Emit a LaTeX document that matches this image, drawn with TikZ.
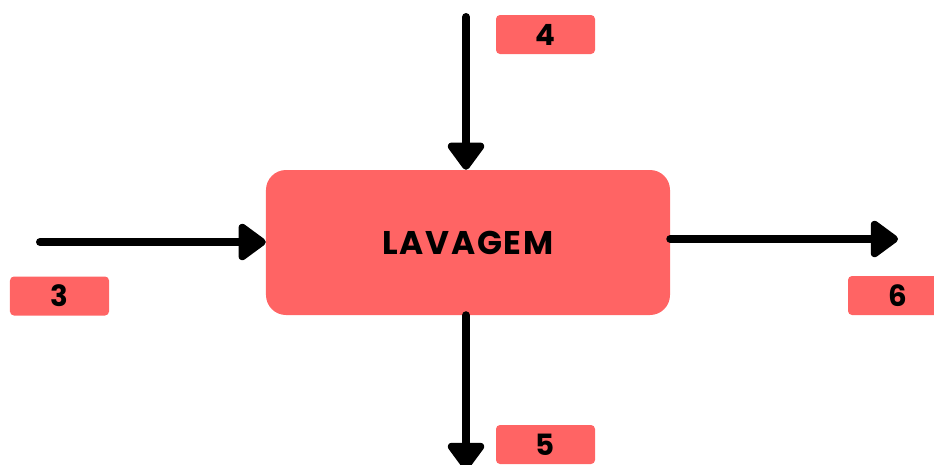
\documentclass[tikz,border=0pt]{standalone}
\usepackage{fontspec}
\setmainfont{Poppins}
\newfontfamily\boxfont[LetterSpace=5]{Poppins}
\usetikzlibrary{arrows.meta}
\definecolor{salmon}{RGB}{255,100,100}
\tikzset{
  flow/.style={line width=2.4mm, line cap=round,
    -{Triangle[length=9mm, width=12.5mm, round]}},
  tag/.style={fill=salmon, rounded corners=1.2mm, minimum width=2.97cm,
    minimum height=1.17cm, inner sep=0pt, font=\bfseries\fontsize{25}{25}\selectfont}
}
\begin{document}
\begin{tikzpicture}[x=0.03cm, y=-0.03cm]
      \useasboundingbox (0, 0) rectangle (934, 464);
      \node [fill=salmon, rounded corners=6mm, minimum width=12.12cm, minimum height=4.35cm,
        font=\boxfont\bfseries\fontsize{28}{28}\selectfont] (wash) at (468, 242.5) {LAVAGEM};
      \coordinate (in) at (40, 242);
      \coordinate (top) at (466, 17);
      \coordinate (bottom) at (466, 470);
      \coordinate (out) at (898, 239);
      \draw [flow] (in) -- (in -| wash.west);
      \draw [flow] (top) -- (wash.north -| top);
      \draw [flow] (wash.south -| bottom) -- (bottom);
      \draw [flow] (wash.east |- out) -- (out);
      \node [tag] (t3) at (59.5, 296) {3};
      \node [tag] (t4) at (545.5, 34.5) {4};
      \node [tag] (t5) at (545.5, 444.5) {5};
      \node [tag] (t6) at (897.5, 295.5) {6};
    \end{tikzpicture}
\end{document}
